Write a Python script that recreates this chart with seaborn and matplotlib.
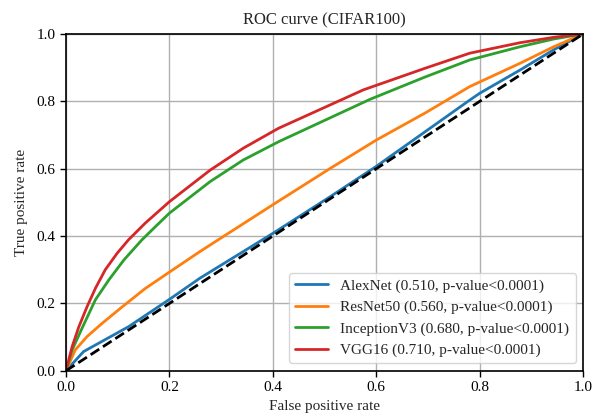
import matplotlib
matplotlib.use("Agg")
import matplotlib.pyplot as plt
import seaborn as sns
import pandas as pd

# ROC operating points per model (false positive rate, true positive rate)
alexnet_fpr = [0.0, 0.034, 0.121, 0.20, 0.259, 0.40, 0.511, 0.60, 0.781, 0.80, 0.878, 0.943, 1.0]
alexnet_tpr = [0.0, 0.057, 0.131, 0.212, 0.275, 0.408, 0.517, 0.607, 0.804, 0.824, 0.893, 0.953, 1.0]

resnet_fpr = [0.0, 0.018, 0.041, 0.070, 0.108, 0.153, 0.20, 0.259, 0.40, 0.511, 0.60, 0.694,
              0.781, 0.878, 0.943, 1.0]
resnet_tpr = [0.0, 0.062, 0.102, 0.141, 0.189, 0.244, 0.293, 0.354, 0.493, 0.601, 0.685, 0.765,
              0.844, 0.913, 0.962, 1.0]

inception_fpr = [0.0, 0.012, 0.031, 0.057, 0.083, 0.112, 0.147, 0.173, 0.20, 0.279, 0.343, 0.411,
                 0.588, 0.694, 0.781, 0.878, 0.943, 1.0]
inception_tpr = [0.0, 0.062, 0.126, 0.211, 0.270, 0.329, 0.389, 0.428, 0.468, 0.562, 0.626, 0.680,
                 0.806, 0.872, 0.923, 0.962, 0.985, 1.0]

vgg_fpr = [0.0, 0.012, 0.025, 0.041, 0.057, 0.076, 0.099, 0.121, 0.153, 0.20, 0.279, 0.343,
           0.411, 0.575, 0.694, 0.781, 0.878, 0.943, 1.0]
vgg_tpr = [0.0, 0.072, 0.131, 0.191, 0.245, 0.300, 0.349, 0.389, 0.438, 0.502, 0.596, 0.661,
           0.720, 0.834, 0.898, 0.943, 0.974, 0.990, 1.0]

model_labels = [
    "AlexNet (0.510, p-value<0.0001)",
    "ResNet50 (0.560, p-value<0.0001)",
    "InceptionV3 (0.680, p-value<0.0001)",
    "VGG16 (0.710, p-value<0.0001)",
]

chance_x = [0.0, 1.0]
chance_y = [0.0, 1.0]

frames = []
for label, fpr, tpr in zip(model_labels,
                           [alexnet_fpr, resnet_fpr, inception_fpr, vgg_fpr],
                           [alexnet_tpr, resnet_tpr, inception_tpr, vgg_tpr]):
    frames.append(pd.DataFrame({"fpr": fpr, "tpr": tpr, "model": label}))
roc = pd.concat(frames, ignore_index=True)

sns.set_theme(style="ticks")
plt.rcParams["font.family"] = ["Liberation Serif", "DejaVu Serif"]

fig, ax = plt.subplots(figsize=(6.05, 4.19), dpi=100)
fig.subplots_adjust(left=0.109, right=0.964, top=0.919, bottom=0.115)

palette = ["#1f77b4", "#ff7f0e", "#2ca02c", "#d62728"]
sns.lineplot(data=roc, x="fpr", y="tpr", hue="model", hue_order=model_labels,
             palette=palette, sort=False, estimator=None, linewidth=2, ax=ax)
ax.plot(chance_x, chance_y, color="black", linestyle="--", linewidth=2)

ax.set_xlim(0, 1)
ax.set_ylim(0, 1)
ax.set_xticks([0.0, 0.2, 0.4, 0.6, 0.8, 1.0])
ax.set_yticks([0.0, 0.2, 0.4, 0.6, 0.8, 1.0])
ax.grid(True, color="#b0b0b0", linewidth=1.0)
ax.set_axisbelow(True)
for s in ax.spines.values():
    s.set_linewidth(1.2)
    s.set_color("black")
ax.tick_params(direction="out", length=4, width=1, labelsize=11, colors="black")

ax.set_title("ROC curve (CIFAR100)", fontsize=12, pad=7)
ax.set_xlabel("False positive rate", fontsize=11)
ax.set_ylabel("True positive rate", fontsize=11, labelpad=6)

ax.legend(loc="lower right", fontsize=11, frameon=True, framealpha=0.8,
          edgecolor="#cccccc", handlelength=2.2)

fig.savefig("out.png", dpi=100)
